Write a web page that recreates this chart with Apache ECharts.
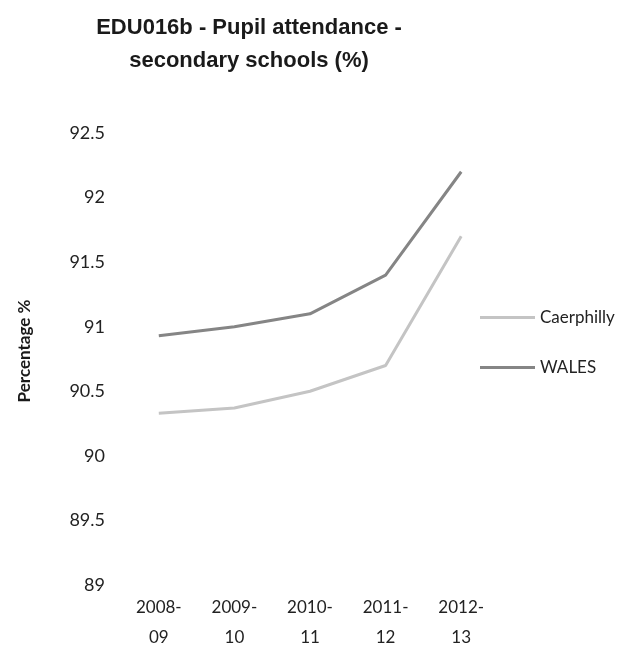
<!DOCTYPE html>
<html>
<head>
<meta charset="utf-8">
<script src="https://cdn.jsdelivr.net/npm/echarts@6/dist/echarts.min.js"></script>
<style>
html, body { margin: 0; padding: 0; background: #fff; }
#chart { width: 625px; height: 657px; }
</style>
</head>
<body>
<div id="chart"></div>
<script>
// school years on the x axis
var years = ['2008-\n09', '2009-\n10', '2010-\n11', '2011-\n12', '2012-\n13'];
// attendance %
var caerphilly = [90.33, 90.37, 90.5, 90.7, 91.7];
var wales = [90.93, 91.0, 91.1, 91.4, 92.2];

var chart = echarts.init(document.getElementById('chart'));
chart.setOption({
    backgroundColor: '#fff',
    animation: false,
    title: {
        text: 'EDU016b - Pupil attendance -\nsecondary schools (%)',
        left: 244,
        top: 6,
        textAlign: 'center',
        textStyle: {
            fontFamily: 'Liberation Sans',
            fontSize: 22,
            fontWeight: 'bold',
            color: '#1a1a1a',
            lineHeight: 33
        }
    },
    legend: {
        orient: 'vertical',
        left: 475,
        top: 304,
        itemWidth: 55,
        itemHeight: 3,
        itemGap: 33,
        icon: 'rect',
        textStyle: {
            fontFamily: 'Lato',
            fontSize: 17,
            color: '#222'
        },
        data: ['Caerphilly', 'WALES']
    },
    grid: {
        left: 121,
        right: 126,
        top: 133,
        bottom: 72
    },
    xAxis: {
        type: 'category',
        data: years,
        axisLine: { show: false },
        axisTick: { show: false },
        axisLabel: {
            margin: 8,
            fontFamily: 'Lato',
            fontSize: 17,
            lineHeight: 30,
            color: '#222'
        }
    },
    yAxis: {
        type: 'value',
        min: 89,
        max: 92.5,
        interval: 0.5,
        name: 'Percentage %',
        nameLocation: 'middle',
        nameGap: 88,
        nameTextStyle: {
            fontFamily: 'Lato',
            fontSize: 17,
            fontWeight: 'bold',
            color: '#1a1a1a',
            padding: [0, 0, 0, 16]
        },
        axisLine: { show: false },
        axisTick: { show: false },
        splitLine: { show: false },
        axisLabel: {
            margin: 16,
            fontFamily: 'Lato',
            fontSize: 18,
            color: '#222'
        }
    },
    series: [{
        name: 'Caerphilly',
        type: 'line',
        data: caerphilly,
        showSymbol: false,
        color: '#c4c4c4',
        lineStyle: { width: 3, color: '#c4c4c4' }
    }, {
        name: 'WALES',
        type: 'line',
        data: wales,
        showSymbol: false,
        color: '#858585',
        lineStyle: { width: 3, color: '#858585' }
    }]
});
</script>
</body>
</html>
